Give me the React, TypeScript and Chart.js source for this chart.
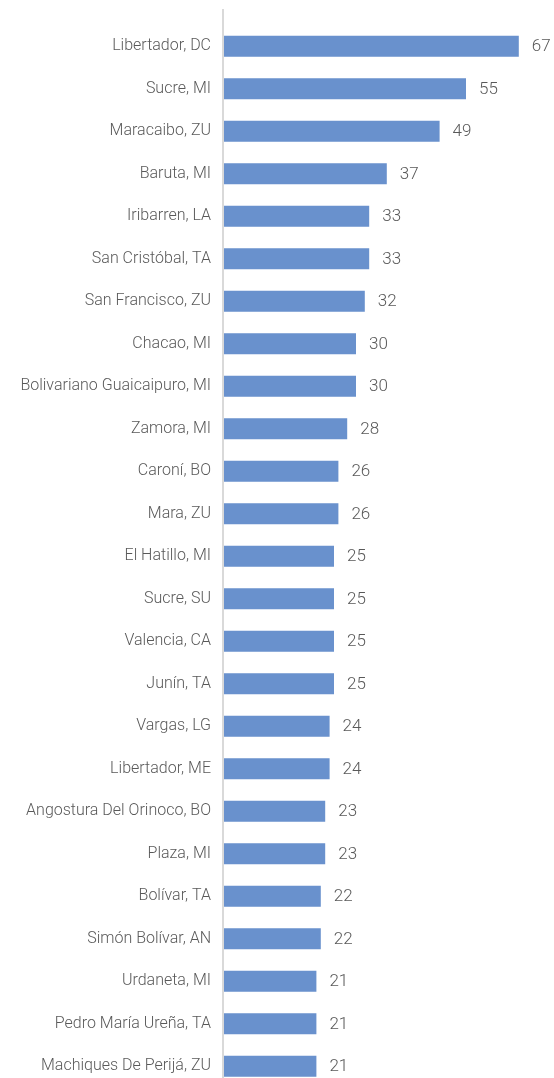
import React, { useEffect, useRef } from "react";
import { Chart, registerables } from "chart.js";

Chart.register(...registerables);

const categories: string[] = [
  "Libertador, DC",
  "Sucre, MI",
  "Maracaibo, ZU",
  "Baruta, MI",
  "Iribarren, LA",
  "San Cristóbal, TA",
  "San Francisco, ZU",
  "Chacao, MI",
  "Bolivariano Guaicaipuro, MI",
  "Zamora, MI",
  "Caroní, BO",
  "Mara, ZU",
  "El Hatillo, MI",
  "Sucre, SU",
  "Valencia, CA",
  "Junín, TA",
  "Vargas, LG",
  "Libertador, ME",
  "Angostura Del Orinoco, BO",
  "Plaza, MI",
  "Bolívar, TA",
  "Simón Bolívar, AN",
  "Urdaneta, MI",
  "Pedro María Ureña, TA",
  "Machiques De Perijá, ZU",
];

const values: number[] = [67, 55, 49, 37, 33, 33, 32, 30, 30, 28, 26, 26, 25, 25, 25, 25, 24, 24, 23, 23, 22, 22, 21, 21, 21];

const FONT = '"Roboto", sans-serif';
const TEXT = "#595959";

export default function App() {
  const ref = useRef<HTMLCanvasElement | null>(null);
  useEffect(() => {
    document.body.style.margin = "0";
    document.body.style.overflow = "hidden";
    const canvas = ref.current;
    if (!canvas) return;
    const axisLine = {
      id: "axisLine",
      beforeDatasetsDraw(chart: any) {
        const { ctx, chartArea } = chart;
        ctx.save();
        ctx.strokeStyle = "#d9d9d9";
        ctx.lineWidth = 2;
        ctx.beginPath();
        ctx.moveTo(chartArea.left - 1, 9);
        ctx.lineTo(chartArea.left - 1, chart.height);
        ctx.stroke();
        ctx.restore();
      },
    };
    const valueLabels = {
      id: "valueLabels",
      afterDatasetsDraw(chart: any) {
        const { ctx } = chart;
        const meta = chart.getDatasetMeta(0);
        ctx.save();
        ctx.fillStyle = TEXT;
        ctx.font = `300 17px ${FONT}`;
        ctx.textAlign = "left";
        ctx.textBaseline = "middle";
        meta.data.forEach((bar: any, i: number) => {
          ctx.fillText(String(values[i]), bar.x + 13, bar.y + 1);
        });
        ctx.restore();
      },
    };
    const chart = new Chart(canvas, {
      type: "bar",
      data: {
        labels: categories,
        datasets: [
          {
            data: values,
            backgroundColor: "#6991CD",
            borderWidth: 0,
            categoryPercentage: 1,
            barPercentage: 0.494,
          },
        ],
      },
      options: {
        indexAxis: "y",
        animation: false,
        responsive: false,
        maintainAspectRatio: false,
        layout: { padding: { top: 25, bottom: 0, left: 0, right: 22 } },
        plugins: { legend: { display: false }, tooltip: { enabled: false } },
        scales: {
          x: { display: false, min: 0, max: 70 },
          y: {
            grid: { display: false, drawTicks: false },
            border: { display: false },
            ticks: {
              color: TEXT,
              font: { family: FONT, size: 16, weight: "300" },
              padding: 13,
              autoSkip: false,
            },
            afterFit(scale: any) {
              scale.width = 224;
            },
          },
        },
      },
      plugins: [axisLine, valueLabels],
    });
    return () => chart.destroy();
  }, []);
  return (
    <div style={{ width: 554, height: 1078, overflow: "hidden" }}>
      <canvas ref={ref} width={554} height={1110} style={{ display: "block" }} />
    </div>
  );
}
